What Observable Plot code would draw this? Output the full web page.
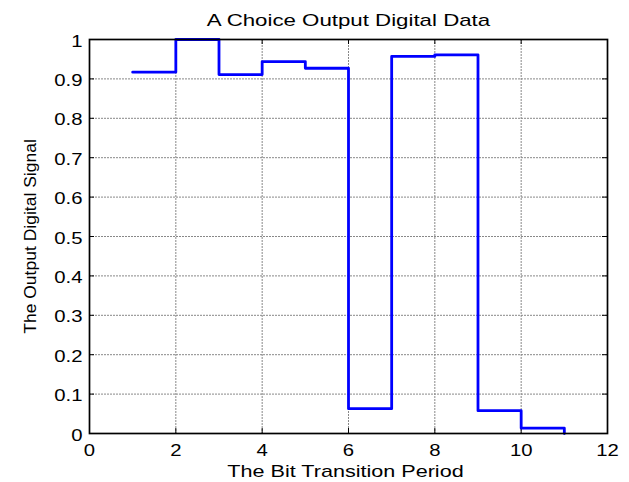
<!DOCTYPE html>
<html>
<head>
<meta charset="utf-8">
<script src="https://cdn.jsdelivr.net/npm/d3@7"></script>
<script src="https://cdn.jsdelivr.net/npm/@observablehq/plot@0.6"></script>
<style>
  html, body { margin: 0; padding: 0; background: #fff; }
  #chart svg { display: block; }
</style>
</head>
<body>
<div id="chart"></div>
<script>
// ---- data ----
const period = [1, 2, 3, 4, 5, 6, 7, 8, 9, 10, 11];
const signal = [0.917, 1.0, 0.911, 0.944, 0.927, 0.063, 0.957, 0.961, 0.058, 0.0135, 0];
const xTicks = [0, 2, 4, 6, 8, 10, 12];
const yTicks = [0, 0.1, 0.2, 0.3, 0.4, 0.5, 0.6, 0.7, 0.8, 0.9, 1];
const titleText = "A Choice Output Digital Data";
const xLabelText = "The Bit Transition Period";
const yLabelText = "The Output Digital Signal";

const data = period.map((x, i) => ({x, y: signal[i]}));

const W = 629, H = 482;
const mL = 89, mR = 22, mT = 39, mB = 49;
const pw = W - mL - mR, ph = H - mT - mB;
const tick = 5;
const gridStyle = {stroke: "#888", strokeOpacity: 1, strokeDasharray: "2,1", strokeWidth: 1};

const chart = Plot.plot({
  width: W,
  height: H,
  marginLeft: mL,
  marginRight: mR,
  marginTop: mT,
  marginBottom: mB,
  style: {fontFamily: "'Liberation Sans', Arial, sans-serif", fontSize: "16px", background: "#fff", color: "#000"},
  x: {domain: [0, 12]},
  y: {domain: [0, 1]},
  marks: [
    Plot.gridX(xTicks, gridStyle),
    Plot.gridY(yTicks, gridStyle),
    // inward ticks on all four sides
    Plot.tickY(yTicks, {y: d => d, insetRight: pw - tick, stroke: "#000"}),
    Plot.tickY(yTicks, {y: d => d, insetLeft: pw - tick, stroke: "#000"}),
    Plot.tickX(xTicks, {x: d => d, insetTop: ph - tick, stroke: "#000"}),
    Plot.tickX(xTicks, {x: d => d, insetBottom: ph - tick, stroke: "#000"}),
    Plot.axisX(xTicks, {tickSize: 0, tickPadding: 11, label: null, tickFormat: d => String(d), fontSize: 16}),
    Plot.axisY(yTicks, {tickSize: 0, tickPadding: 7, label: null, tickFormat: d => String(d), fontSize: 16, dy: 2}),
    Plot.line(data, {x: "x", y: "y", curve: "step-after", stroke: "#0000ff", strokeWidth: 2.8}),
    Plot.frame({stroke: "#000", strokeWidth: 1.7}),
    Plot.text([titleText], {text: d => d, frameAnchor: "top", textAnchor: "middle", lineAnchor: "middle", dy: -19, fontSize: 17}),
    Plot.text([xLabelText], {text: d => d, frameAnchor: "bottom", textAnchor: "middle", lineAnchor: "middle", dy: 38, dx: -3, fontSize: 17}),
    Plot.text([yLabelText], {text: d => d, frameAnchor: "left", textAnchor: "middle", lineAnchor: "middle", rotate: -90, dx: -59, fontSize: 17})
  ]
});

// horizontally stretched lettering as in the reference
const stretch = new Map([[titleText, 1.31], [xLabelText, 1.27], [yLabelText, 1.03]]);
chart.querySelectorAll("text").forEach(t => {
  const s = stretch.get(t.textContent) ?? 1.27;
  const tr = t.getAttribute("transform") || "";
  if (tr) {
    t.setAttribute("transform", tr + ` scale(${s},1)`);
  } else {
    const x = +(t.getAttribute("x") || 0), y = +(t.getAttribute("y") || 0);
    t.removeAttribute("x"); t.removeAttribute("y");
    t.setAttribute("transform", `translate(${x},${y}) scale(${s},1)`);
  }
});

document.getElementById("chart").append(chart);
</script>
</body>
</html>
